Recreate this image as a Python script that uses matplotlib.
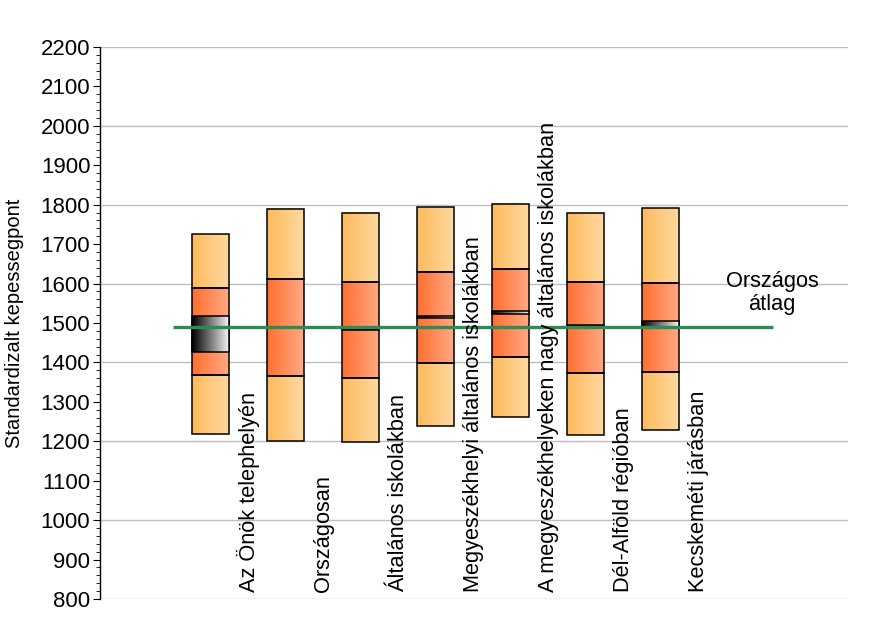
import numpy as np
import matplotlib
matplotlib.use("Agg")
import matplotlib.pyplot as plt
from matplotlib.patches import Rectangle
from matplotlib.colors import to_rgb
from matplotlib.ticker import MultipleLocator

plt.rcParams['font.family'] = ['Liberation Sans', 'DejaVu Sans']

categories = ["Az Önök telephelyén", "Országosan", "Általános iskolákban",
              "Megyeszékhelyi általános iskolákban",
              "A megyeszékhelyeken nagy általános iskolákban",
              "Dél-Alföld régióban", "Kecskeméti járásban"]
p5 = [1218, 1201, 1198, 1240, 1261, 1216, 1229]
p25 = [1367, 1366, 1360, 1399, 1413, 1372, 1375]
p75 = [1590, 1611, 1603, 1629, 1636, 1603, 1601]
p95 = [1725, 1790, 1780, 1793, 1803, 1778, 1791]
ci_lo = [1427, 1488, 1483, 1513, 1524, 1492, 1491]
ci_hi = [1517, 1490, 1485, 1517, 1530, 1494, 1505]
national_avg = 1489
avg_label = "Országos\nátlag"
y_label = "Standardizalt kepessegpont"

fig = plt.figure(figsize=(8.7, 6.42), dpi=100)
ax = fig.add_axes([100/870, 43/642, 748/870, 552/642])

W = 0.49

def grad_box(x, lo, hi, c1, c2, z):
    c1 = np.array(to_rgb(c1)); c2 = np.array(to_rgb(c2))
    t = np.linspace(0, 1, 256)[None, :, None]
    img = c1 * (1 - t) + c2 * t
    img = np.repeat(img, 2, axis=0)
    ax.imshow(img, extent=[x - W/2, x + W/2, lo, hi], aspect='auto',
              interpolation='bilinear', zorder=z)
    ax.add_patch(Rectangle((x - W/2, lo), W, hi - lo, fill=False,
                           edgecolor='black', lw=1.1, zorder=z + 0.5))

light = ('#FDBA5C', '#FFD9A0')
mid = ('#FF6F30', '#FFA984')
dark = ('#000000', '#F2F2F2')

for i in range(len(categories)):
    grad_box(i, p5[i], p25[i], *light, 3)
    grad_box(i, p75[i], p95[i], *light, 3)
    grad_box(i, p25[i], p75[i], *mid, 3)
    grad_box(i, ci_lo[i], ci_hi[i], *dark, 4)
    ax.text(i + 0.51, 818, categories[i], rotation=90, ha='center',
            va='bottom', fontsize=15.7, zorder=6)

ax.plot([-0.5, 7.5], [national_avg, national_avg], color='#2E8B57', lw=2.4,
        zorder=5, solid_capstyle='butt')
ax.text(7.49, 1576, avg_label, ha='center', va='center', fontsize=15.7,
        linespacing=1.1, zorder=6)

ax.set_xlim(-1.473, 8.5)
ax.set_ylim(800, 2200)
ax.yaxis.set_major_locator(MultipleLocator(100))
ax.yaxis.set_minor_locator(MultipleLocator(20))
for v in range(800, 2201, 200):
    ax.axhline(v, color='#BEBEBE', lw=1, zorder=1)
ax.set_xticks([])
for s in ['top', 'right', 'bottom']:
    ax.spines[s].set_visible(False)
ax.spines['left'].set_color('black')
ax.spines['left'].set_linewidth(1)
ax.tick_params(axis='y', which='major', length=5, labelsize=16, pad=2)
ax.tick_params(axis='y', which='minor', length=3)
ax.set_ylabel(y_label, fontsize=14.5)
ax.yaxis.set_label_coords(-0.1016, 0.5)

fig.savefig('out.png', dpi=100)
